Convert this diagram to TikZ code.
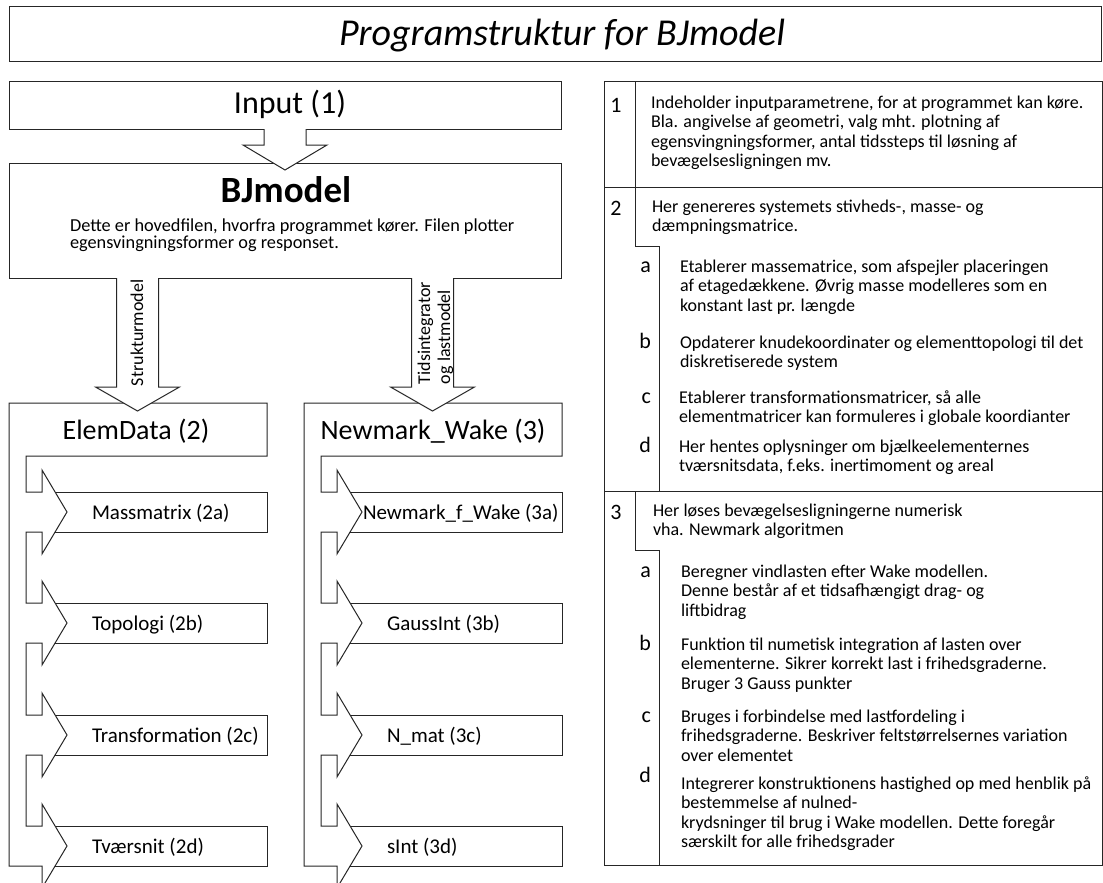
\documentclass[tikz,border=0pt]{standalone}
\usepackage{fontspec}
\setmainfont{Carlito}
\newcommand\fs[2]{\fontsize{#1}{#2}\selectfont}
% block arrow pointing down: #1 centre x, #2 top y, #3 shoulder y, #4 tip y
\newcommand\blockarrow[4]{%
  \fill[white] (#1-21,#2-2) -- (#1-21,#3) -- (#1-42,#3) -- (#1,#4) -- (#1+42,#3) -- (#1+21,#3) -- (#1+21,#2-2) -- cycle;
  \draw[outline] (#1-21,#2) -- (#1-21,#3) -- (#1-42,#3) -- (#1,#4) -- (#1+42,#3) -- (#1+21,#3) -- (#1+21,#2);
}
% bracket with header and four arrow-shaped sub-boxes, shifted by #1
\newcommand\bracketunit[1]{%
  \begin{scope}[xshift=#1pt]
    \foreach \yc in {512,623,735,846} {\draw[whitebox] (55,\yc-20) rectangle (267,\yc+20);}
    \draw[whitebox] (9,403) -- (267,403) -- (267,456) -- (26,456)
      -- (26,492) -- (42,492) -- (42,470) -- (67,512) -- (42,554) -- (42,532) -- (26,532)
      -- (26,603) -- (42,603) -- (42,581) -- (67,623) -- (42,665) -- (42,643) -- (26,643)
      -- (26,715) -- (42,715) -- (42,693) -- (67,735) -- (42,777) -- (42,755) -- (26,755)
      -- (26,826) -- (42,826) -- (42,804) -- (67,846) -- (42,888) -- (42,866) -- (9,866) -- cycle;
  \end{scope}}
\tikzset{
  outline/.style={draw=black!85, line width=1pt},
  whitebox/.style={outline, fill=white},
  txt/.style={inner sep=0pt, outer sep=0pt},
  % multi-line paragraphs are placed by the baseline of their last line
  para/.style={txt, align=left, anchor=base west, font=\fs{18}{19.6}},
  tag/.style={txt, anchor=base east, font=\fs{22}{22}},
  num/.style={txt, anchor=base, font=\fs{22}{22}},
  subtxt/.style={txt, anchor=base west, font=\fs{21}{24}},
  headtxt/.style={txt, anchor=base, font=\fs{28}{30}},
  vtxt/.style={txt, anchor=base west, rotate=90, font=\fs{18}{20}},
}
\begin{document}
\begin{tikzpicture}[x=1pt, y=-1pt]
\useasboundingbox (0,0) rectangle (1103,883);

% title
\draw[outline] (9,7) rectangle (1101,62);
\node[txt, anchor=base, font=\fs{38}{42}\itshape] (title) at (562,46) {Programstruktur for BJmodel};

% input and main file
\draw[outline] (9,82) rectangle (561,129);
\node[txt, anchor=base, font=\fs{32}{34}] (input) at (290,113) {Input (1)};
\draw[outline] (9,163) rectangle (561,278);
\node[txt, anchor=base, font=\fs{37}{40}\bfseries] (main) at (286,202) {BJmodel};
\node[para, font=\fs{18.3}{17.5}] (maindesc) at (70,248.5) {Dette er hovedfilen, hvorfra programmet kører. Filen plotter\\egensvingningsformer og responset.};

% sub-programs
\bracketunit{0}
\bracketunit{295}
\node[headtxt] (elem) at (136,439) {ElemData (2)};
\node[headtxt] (newm) at (433,439) {Newmark\_Wake (3)};
\node[subtxt] (s2a) at (92,519) {Massmatrix (2a)};
\node[subtxt] (s2b) at (92,630) {Topologi (2b)};
\node[subtxt] (s2c) at (92,742) {Transformation (2c)};
\node[subtxt] (s2d) at (92,853) {Tværsnit (2d)};
\node[subtxt] (s3a) at (363,519) {Newmark\_f\_Wake (3a)};
\node[subtxt] (s3b) at (387,630) {GaussInt (3b)};
\node[subtxt] (s3c) at (387,742) {N\_mat (3c)};
\node[subtxt] (s3d) at (387,853) {sInt (3d)};

% arrows between the levels
\blockarrow{285}{129}{145}{170}
\blockarrow{137.5}{278}{387}{411}
\blockarrow{432.5}{278}{387}{411}
\node[vtxt] (lbl1) at (143,386) {Strukturmodel};
\node[vtxt] (lbl2a) at (430,384) {Tidsintegrator};
\node[vtxt] (lbl2b) at (450,384) {og lastmodel};

% description table
\draw[outline] (604,82) rectangle (1102,865);
\draw[outline] (604,187) -- (1102,187);
\draw[outline] (604,491) -- (1102,491);
\draw[outline] (635,82) -- (635,246) -- (659,246) -- (659,491);
\draw[outline] (635,491) -- (635,550) -- (659,550) -- (659,865);

\node[num] (n1) at (616,112) {1};
\node[para] (t1) at (651,166.8) {Indeholder inputparametrene, for at programmet kan køre.\\Bla. angivelse af geometri, valg mht. plotning af\\egensvingningsformer, antal tidssteps til løsning af\\bevægelsesligningen mv.};

\node[num] (n2) at (616,215) {2};
\node[para] (t2) at (652,231.6) {Her genereres systemets stivheds-, masse- og\\dæmpningsmatrice.};
\node[tag] (l2a) at (651,272) {a};
\node[para] (t2a) at (680,311.2) {Etablerer massematrice, som afspejler placeringen\\af etagedækkene. Øvrig masse modelleres som en\\konstant last pr. længde};
\node[tag] (l2b) at (651,348) {b};
\node[para] (t2b) at (680,367.6) {Opdaterer knudekoordinater og elementtopologi til det\\diskretiserede system};
\node[tag] (l2c) at (651,403) {c};
\node[para] (t2c) at (679,422.6) {Etablerer transformationsmatricer, så alle\\elementmatricer kan formuleres i globale koordianter};
\node[tag] (l2d) at (651,452) {d};
\node[para] (t2d) at (679,471.6) {Her hentes oplysninger om bjælkeelementernes\\tværsnitsdata, f.eks. inertimoment og areal};

\node[num] (n3) at (616,519) {3};
\node[para] (t3) at (653,535.6) {Her løses bevægelsesligningerne numerisk\\vha. Newmark algoritmen};
\node[tag] (l3a) at (651,577) {a};
\node[para] (t3a) at (681,616.2) {Beregner vindlasten efter Wake modellen.\\Denne består af et tidsafhængigt drag- og\\liftbidrag};
\node[tag] (l3b) at (651,650) {b};
\node[para] (t3b) at (681,689.2) {Funktion til numetisk integration af lasten over\\elementerne. Sikrer korrekt last i frihedsgraderne.\\Bruger 3 Gauss punkter};
\node[tag] (l3c) at (651,722) {c};
\node[para] (t3c) at (681,761.2) {Bruges i forbindelse med lastfordeling i\\frihedsgraderne. Beskriver feltstørrelsernes variation\\over elementet};
\node[tag] (l3d) at (651,782) {d};
\node[para] (t3d) at (681,847.8) {Integrerer konstruktionens hastighed op med henblik på\\bestemmelse af nulned-\\krydsninger til brug i Wake modellen. Dette foregår\\særskilt for alle frihedsgrader};
\end{tikzpicture}
\end{document}
